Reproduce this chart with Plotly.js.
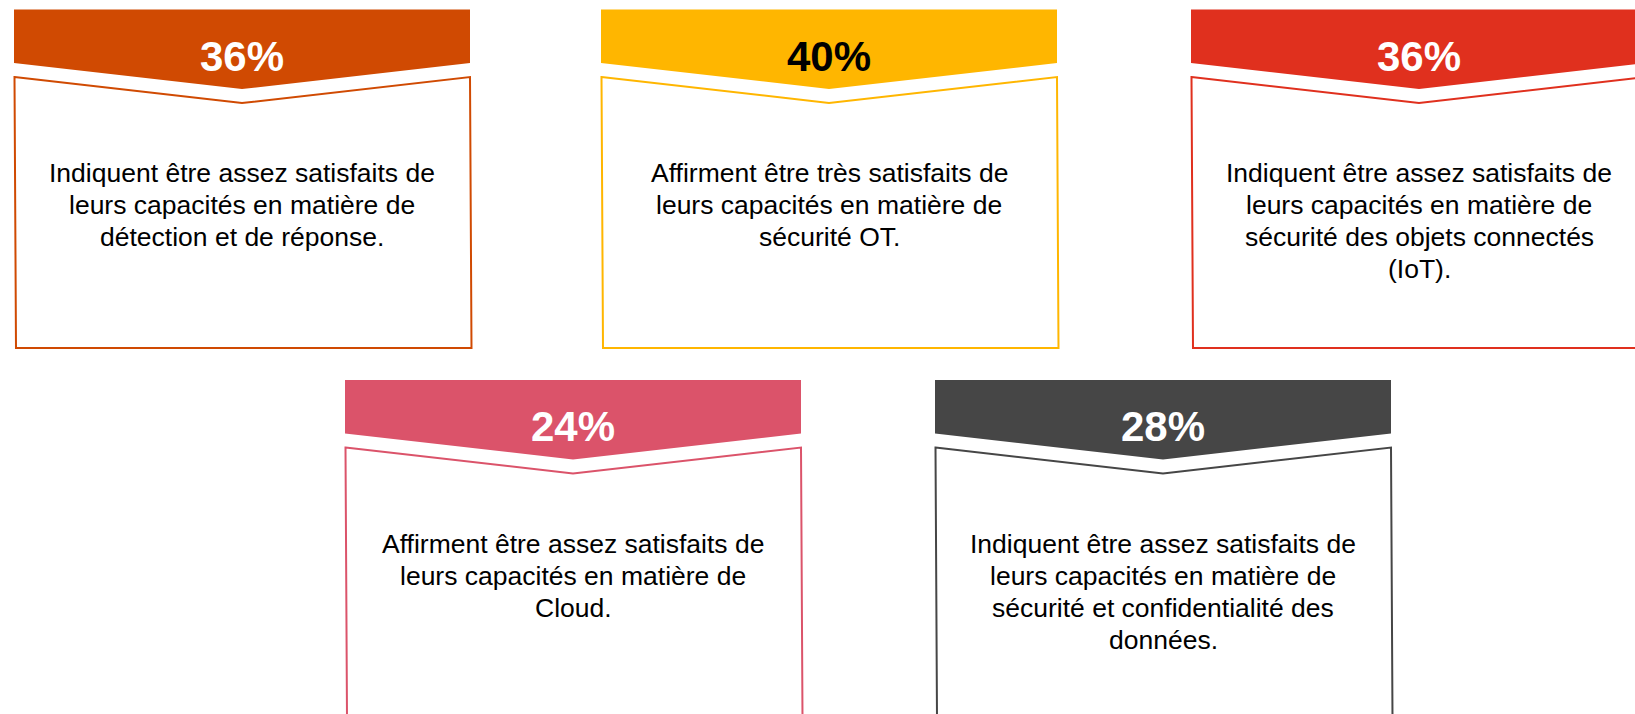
<!DOCTYPE html>
<html>
<head>
<meta charset="utf-8">
<script src="https://cdn.plot.ly/plotly-3.0.1.min.js"></script>
<style>
  html, body { margin: 0; padding: 0; background: #ffffff; }
  #chart { width: 1635px; height: 714px; }
</style>
</head>
<body>
<div id="chart"></div>
<script>
// ---- Data ----
const cardValues = [36, 40, 36, 24, 28];
const cardTexts = [
  'Indiquent être assez satisfaits de<br>leurs capacités en matière de<br>détection et de réponse.',
  'Affirment être très satisfaits de<br>leurs capacités en matière de<br>sécurité OT.',
  'Indiquent être assez satisfaits de<br>leurs capacités en matière de<br>sécurité des objets connectés<br>(IoT).',
  'Affirment être assez satisfaits de<br>leurs capacités en matière de<br>Cloud.',
  'Indiquent être assez satisfaits de<br>leurs capacités en matière de<br>sécurité et confidentialité des<br>données.'
];
const cardColors = ['#D04A02', '#FFB600', '#E0301E', '#DB536A', '#464646'];
const valueTextColors = ['#FFFFFF', '#000000', '#FFFFFF', '#FFFFFF', '#FFFFFF'];

// ---- Layout geometry (positions in pixel-scaled axis units) ----
const geom = {
  left: [14, 601, 1191, 345, 935],
  top: [9.5, 9.5, 9.5, 380, 380],
  width: 456,
  bannerSide: 53.5,
  bannerTip: 79.5,
  boxTop: 67.5,
  boxTip: 93.5,
  boxBottom: 338.5,
  skew: 1.5,
  valueY: 46.5,
  textY: 163.5,
  lineGap: 32
};
const FONT = 'Arial, "Liberation Sans", sans-serif';

const shapes = [];
const annotations = [];

cardValues.forEach((v, i) => {
  const L = geom.left[i], T = geom.top[i], R = L + geom.width, C = L + geom.width / 2;
  // banner
  shapes.push({
    type: 'path', xref: 'x', yref: 'y',
    path: `M ${L},${T} L ${R},${T} L ${R},${T + geom.bannerSide} L ${C},${T + geom.bannerTip} L ${L},${T + geom.bannerSide} Z`,
    fillcolor: cardColors[i], line: { width: 0 }
  });
  // outlined box
  shapes.push({
    type: 'path', xref: 'x', yref: 'y',
    path: `M ${L + 0.5},${T + geom.boxTop} L ${C},${T + geom.boxTip} L ${R},${T + geom.boxTop} L ${R + geom.skew},${T + geom.boxBottom} L ${L + 0.5 + geom.skew},${T + geom.boxBottom} Z`,
    fillcolor: 'rgba(0,0,0,0)', line: { color: cardColors[i], width: 2 }
  });
  // value label
  annotations.push({
    xref: 'x', yref: 'y', x: C, y: T + geom.valueY,
    xanchor: 'center', yanchor: 'middle', showarrow: false,
    text: '<b>' + v + '%</b>',
    font: { family: FONT, size: 42, color: valueTextColors[i] }
  });
  // description lines
  cardTexts[i].split('<br>').forEach((line, k) => {
    annotations.push({
      xref: 'x', yref: 'y', x: C, y: T + geom.textY + k * geom.lineGap,
      xanchor: 'center', yanchor: 'middle', showarrow: false,
      text: line,
      font: { family: FONT, size: 26.5, color: '#000000' }
    });
  });
});

const layout = {
  width: 1635, height: 714,
  margin: { l: 0, r: 0, t: 0, b: 0, pad: 0 },
  paper_bgcolor: '#ffffff', plot_bgcolor: '#ffffff',
  showlegend: false,
  xaxis: { range: [0, 1635], visible: false, fixedrange: true },
  yaxis: { range: [714, 0], visible: false, fixedrange: true },
  shapes: shapes,
  annotations: annotations
};

Plotly.newPlot('chart', [{ x: [], y: [], type: 'scatter', mode: 'markers', hoverinfo: 'skip' }], layout, { displayModeBar: false, staticPlot: true });
</script>
</body>
</html>
